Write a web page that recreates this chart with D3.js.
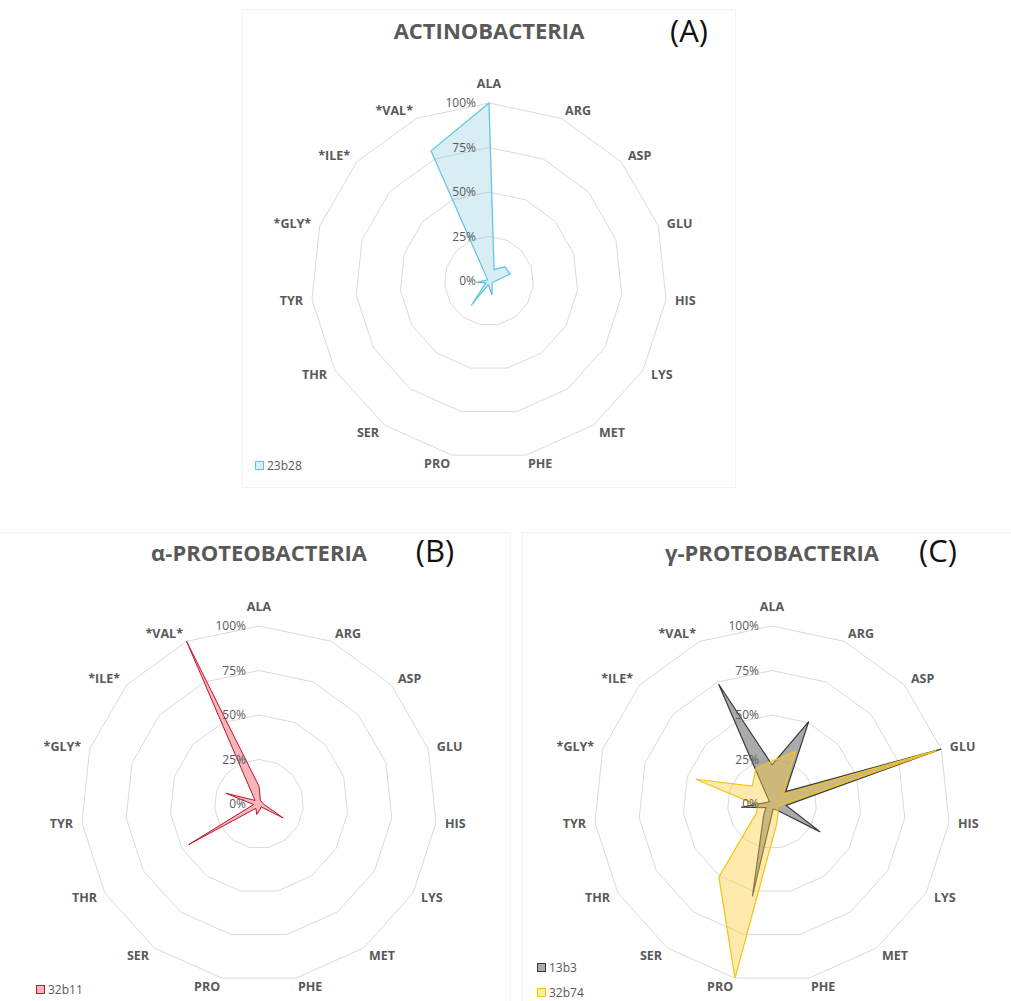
<!DOCTYPE html>
<html>
<head>
<meta charset="utf-8">
<script src="https://cdn.jsdelivr.net/npm/d3@7"></script>
<style>
  html, body { margin: 0; padding: 0; background: #fff; }
  svg { display: block; font-family: "Open Sans", "Noto Sans", sans-serif; }
</style>
</head>
<body>
<svg id="chart" width="1011" height="1001"></svg>
<script>
// Amino acid axes, clockwise from the top
const categories = ["ALA","ARG","ASP","GLU","HIS","LYS","MET","PHE","PRO","SER","THR","TYR","*GLY*","*ILE*","*VAL*"];
const tickValues = [0, 25, 50, 75, 100];
const tickLabels = ["0%", "25%", "50%", "75%", "100%"];

// Relative utilisation (%) per strain
const s23b28 = [100, 7, 12, 12.5, 3, 2, 3, 8, 2, 17, 2, 7, 1.5, 1, 80];
const s32b11 = [10, 2, 2, 2, 3, 15.7, 2, 3, 6, 3, 45.6, 3, 19.6, 3, 100];
const s13b3  = [22, 50.7, 10.4, 100, 8, 31.3, 4, 3, 53, 8, 4, 17.5, 3, 2, 73.8];
const s32b74 = [24, 32.5, 8, 97, 5, 3, 6, 12, 100, 50.8, 10, 8, 45, 15, 22];

const seriesNames = ["23b28", "32b11", "13b3", "32b74"];
const seriesValues = [s23b28, s32b11, s13b3, s32b74];

// Appearance of each strain
const styles = {
  "23b28": { stroke: "#5bc4e0", fill: "rgba(120,190,220,0.28)", sw: 1.2 },
  "32b11": { stroke: "#c0142c", fill: "rgba(236,110,120,0.5)", sw: 1 },
  "13b3":  { stroke: "#3a3a3a", fill: "rgba(100,100,100,0.55)", sw: 1.2 },
  "32b74": { stroke: "#f2c318", fill: "rgba(255,205,60,0.42)", sw: 1.2 }
};

// Panel layout
const panels = [
  { title: "ACTINOBACTERIA", tag: "(A)", cx: 489, cy: 281, titleY: 31, tagX: 689, tagY: 31,
    frame: [242, 9, 493, 478], series: ["23b28"], legendX: 255, legendY: 466 },
  { title: "α-PROTEOBACTERIA", tag: "(B)", cx: 259, cy: 804, titleY: 553, tagX: 435, tagY: 551,
    frame: [-2, 532, 512, 475], series: ["32b11"], legendX: 36, legendY: 990 },
  { title: "γ-PROTEOBACTERIA", tag: "(C)", cx: 772, cy: 804, titleY: 553, tagX: 938, tagY: 551,
    frame: [522, 532, 495, 475], series: ["13b3", "32b74"], legendX: 537, legendY: 968 }
];

const R = 178;
const svg = d3.select("#chart");
const r = d3.scaleLinear().domain([0, 100]).range([0, R]);
// angular position of each axis: evenly spaced around the full circle
const angle = d3.scaleLinear().domain([0, categories.length]).range([0, 2 * Math.PI]);
const ang = c => angle(categories.indexOf(c));

const radial = d3.lineRadial()
  .angle(d => ang(d.cat))
  .radius(d => r(d.v))
  .curve(d3.curveLinearClosed);

panels.forEach(p => {
  // faint chart-area frame
  svg.append("rect")
    .attr("x", p.frame[0] + 0.5).attr("y", p.frame[1] + 0.5)
    .attr("width", p.frame[2]).attr("height", p.frame[3])
    .attr("fill", "none").attr("stroke", "#f3f3f3").attr("stroke-width", 1);

  const g = svg.append("g").attr("transform", `translate(${p.cx},${p.cy})`);

  // polygonal grid rings
  tickValues.filter(t => t > 0).forEach(t => {
    g.append("path")
      .attr("d", radial(categories.map(c => ({ cat: c, v: t }))))
      .attr("fill", "none").attr("stroke", "#dadada").attr("stroke-width", 1);
  });

  // series areas
  p.series.forEach(name => {
    const vals = seriesValues[seriesNames.indexOf(name)];
    const st = styles[name];
    g.append("path")
      .attr("d", radial(categories.map((c, i) => ({ cat: c, v: vals[i] }))))
      .attr("fill", st.fill).attr("stroke", st.stroke)
      .attr("stroke-width", st.sw).attr("stroke-linejoin", "miter");
  });

  // radial tick labels
  tickValues.forEach((t, i) => {
    g.append("text")
      .attr("x", -13).attr("y", -r(t)).attr("dy", "0.35em")
      .attr("text-anchor", "end")
      .attr("font-size", 12).attr("fill", "#595959")
      .text(tickLabels[i]);
  });

  // category labels
  categories.forEach(c => {
    const a = ang(c);
    const s = Math.sin(a), co = Math.cos(a);
    const vx = s * r(100), vy = -co * r(100);
    let x, y, anchor;
    if (Math.abs(s) < 0.05) {
      anchor = "middle"; x = vx; y = vy - 19;
    } else {
      anchor = s > 0 ? "start" : "end";
      x = vx + 9 * s; y = vy - 9 * co;
    }
    g.append("text")
      .attr("x", x).attr("y", y).attr("dy", "0.35em")
      .attr("text-anchor", anchor)
      .attr("font-size", 12.5).attr("font-weight", 700).attr("fill", "#595959")
      .text(c);
  });

  // title and panel tag
  svg.append("text")
    .attr("x", p.cx).attr("y", p.titleY).attr("dy", "0.35em")
    .attr("text-anchor", "middle")
    .attr("font-size", 22).attr("font-weight", 700).attr("fill", "#595959")
    .text(p.title);
  svg.append("text")
    .attr("x", p.tagX).attr("y", p.tagY).attr("dy", "0.35em")
    .attr("text-anchor", "middle")
    .attr("font-size", 31).attr("fill", "#111")
    .text(p.tag);

  // legend
  p.series.forEach((name, i) => {
    const st = styles[name];
    const ly = p.legendY + i * 25;
    svg.append("rect")
      .attr("x", p.legendX + 0.5).attr("y", ly - 4.5).attr("width", 8).attr("height", 8)
      .attr("fill", st.fill).attr("stroke", st.stroke).attr("stroke-width", 1);
    svg.append("text")
      .attr("x", p.legendX + 12).attr("y", ly).attr("dy", "0.35em")
      .attr("font-size", 12).attr("fill", "#595959")
      .text(name);
  });
});
</script>
</body>
</html>
